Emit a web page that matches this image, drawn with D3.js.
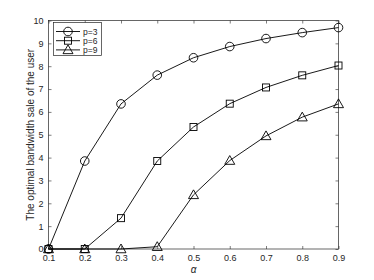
<!DOCTYPE html>
<html><head><meta charset="utf-8">
<script src="https://cdn.jsdelivr.net/npm/d3@7"></script>
<style>body{margin:0;background:#fff}svg{display:block}text{font-family:"Liberation Sans",Arial,sans-serif}</style>
</head><body>
<script>
const alphas=[0.1,0.2,0.3,0.4,0.5,0.6,0.7,0.8,0.9];
const p3=[0,3.85,6.35,7.61,8.37,8.86,9.21,9.47,9.69];
const p6=[0,0,1.35,3.85,5.34,6.36,7.07,7.6,8.03];
const p9=[0,0,0,0.1,2.37,3.87,4.95,5.77,6.35];
const seriesNames=["p=3","p=6","p=9"];
const xTicks=[0.1,0.2,0.3,0.4,0.5,0.6,0.7,0.8,0.9];
const yTicks=[0,1,2,3,4,5,6,7,8,9,10];
const series=[{name:seriesNames[0],v:p3,m:"circle"},{name:seriesNames[1],v:p6,m:"square"},{name:seriesNames[2],v:p9,m:"triangle"}];

const W=374,H=280,L=48.5,R=338.5,T=20.5,B=249;
const svg=d3.select("body").append("svg").attr("width",W).attr("height",H);
const x=d3.scaleLinear().domain([0.1,0.9]).range([L,R]);
const y=d3.scaleLinear().domain([0,10]).range([B,T]);
const ax="#262626";
function style(g){g.select(".domain").remove();g.selectAll("line").attr("stroke",ax).attr("stroke-width",0.6);g.selectAll("text").attr("fill",ax).attr("font-size",9);}
svg.append("g").attr("transform",`translate(0,${B})`).call(d3.axisBottom(x).tickValues(xTicks).tickFormat(d3.format(".1f")).tickSizeInner(-3).tickSizeOuter(0).tickPadding(6)).call(style);
svg.append("g").attr("transform",`translate(0,${T})`).call(d3.axisTop(x).tickValues(xTicks).tickFormat("").tickSizeInner(-3).tickSizeOuter(0)).call(style);
svg.append("g").attr("transform",`translate(${L},0)`).call(d3.axisLeft(y).tickValues(yTicks).tickFormat(d3.format("d")).tickSizeInner(-3).tickSizeOuter(0).tickPadding(5)).call(style);
svg.append("g").attr("transform",`translate(${R},0)`).call(d3.axisRight(y).tickValues(yTicks).tickFormat("").tickSizeInner(-3).tickSizeOuter(0)).call(style);
svg.append("rect").attr("x",L).attr("y",T).attr("width",R-L).attr("height",B-T).attr("fill","none").attr("stroke",ax).attr("stroke-width",0.7);

const line=d3.line().x((d,i)=>x(alphas[i])).y(d=>y(d));
function marker(g,m,cx,cy){
  if(m==="circle") g.append("circle").attr("cx",cx).attr("cy",cy).attr("r",4.3).attr("fill","none").attr("stroke","#000").attr("stroke-width",0.9);
  else if(m==="square") g.append("rect").attr("x",cx-3.5).attr("y",cy-3.5).attr("width",7).attr("height",7).attr("fill","none").attr("stroke","#000").attr("stroke-width",0.9);
  else { const s=5; g.append("path").attr("d",`M${cx},${cy-s}L${cx+s},${cy+s*0.75}L${cx-s},${cy+s*0.75}Z`).attr("fill","none").attr("stroke","#000").attr("stroke-width",0.9); }
}
series.forEach(s=>{
  svg.append("path").attr("d",line(s.v)).attr("fill","none").attr("stroke","#000").attr("stroke-width",0.9);
  const g=svg.append("g");
  s.v.forEach((d,i)=>marker(g,s.m,x(alphas[i]),y(d)));
});

// legend
const lg=svg.append("g");
lg.append("rect").attr("x",53.5).attr("y",22.5).attr("width",48).attr("height",33).attr("fill","#fff").attr("stroke",ax).attr("stroke-width",0.7);
series.forEach((s,i)=>{
  const yy=31.5+i*9.2;
  lg.append("line").attr("x1",56).attr("x2",80).attr("y1",yy).attr("y2",yy).attr("stroke","#000").attr("stroke-width",0.9);
  marker(lg,s.m,68,yy);
  lg.append("text").attr("x",83).attr("y",yy+3).attr("font-size",8.5).attr("fill",ax).text(s.name);
});

svg.append("text").attr("transform",`translate(34,${(T+B)/2}) rotate(-90)`).attr("text-anchor","middle").attr("font-size",10).attr("fill",ax).text("The optimal bandwidth sale of the user");
svg.append("text").attr("x",193.5).attr("y",273).attr("text-anchor","middle").attr("font-size",10).attr("font-family","DejaVu Serif, serif").attr("font-style","italic").attr("fill",ax).text("α");
</script>
</body></html>
